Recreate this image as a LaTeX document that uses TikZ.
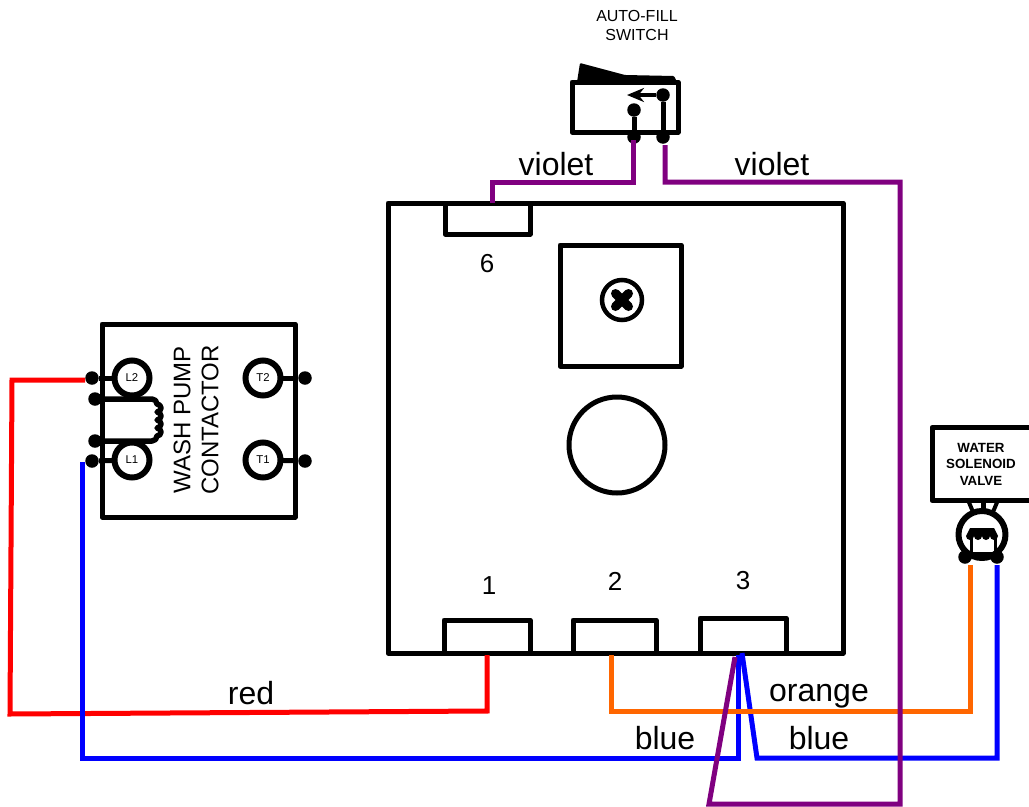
\documentclass[tikz,border=0pt]{standalone}
\usepackage{fontspec}
\setmainfont{Liberation Sans}
\usetikzlibrary{arrows.meta}
\definecolor{wireviolet}{RGB}{128, 0, 128}
\definecolor{wireorange}{RGB}{255, 102, 0}
\definecolor{wireblue}{RGB}{0, 0, 255}
\definecolor{wirered}{RGB}{255, 0, 0}
\newdimen\pxu
\pxu=0.75pt
\tikzset{
  outline/.style={draw=black, line width=5\pxu, line join=round, inner sep=0pt},
  wire/.style={line width=5\pxu, line join=miter},
  post/.style={circle, fill=black, minimum size=13.5\pxu, inner sep=0pt},
  lug/.style={circle, draw=black, line width=6\pxu, fill=white, minimum size=35\pxu, inner sep=0pt, outer sep=0pt, font=\fontsize{8.5}{10}\selectfont},
  biglabel/.style={font=\fontsize{24}{28}\selectfont, inner sep=0pt},
  pinlabel/.style={font=\fontsize{19.5}{23}\selectfont, inner sep=0pt},
  unitlabel/.style={font=\fontsize{18}{21}\selectfont, inner sep=0pt, rotate=90}
}
\begin{document}
\begin{tikzpicture}[x=0.75pt, y=-0.75pt]
  \useasboundingbox (0,0) rectangle (1029,807);
  % Control board
  \node[outline, minimum width=455\pxu, minimum height=450\pxu] (board) at (615.5,428) {};
  \node[outline, minimum width=85\pxu, minimum height=31\pxu] (pin6) at (487.5,218.5) {};
  \node[outline, minimum width=86\pxu, minimum height=33\pxu] (pin1) at (487,636.5) {};
  \node[outline, minimum width=83\pxu, minimum height=33\pxu] (pin2) at (614.5,636.5) {};
  \node[outline, minimum width=86\pxu, minimum height=35\pxu] (pin3) at (743,635.5) {};
  \node[outline, minimum width=121\pxu, minimum height=121\pxu] (pot) at (620.5,305.5) {};
  \node[outline, circle, minimum size=96\pxu] (dial) at (617,445) {};
  \node[draw=black, line width=4.5\pxu, circle, minimum size=40\pxu, inner sep=0pt] (knob) at (622,300) {};
  \draw[line width=9\pxu, line cap=round] ([xshift=-6.5\pxu,yshift=-6.5\pxu]knob.center) -- ([xshift=6.5\pxu,yshift=6.5\pxu]knob.center);
  \draw[line width=9\pxu, line cap=round] ([xshift=-6.5\pxu,yshift=6.5\pxu]knob.center) -- ([xshift=6.5\pxu,yshift=-6.5\pxu]knob.center);
  \node[pinlabel] (lab6) at (487,264) {6};
  \node[pinlabel] (lab1) at (489,586) {1};
  \node[pinlabel] (lab2) at (615,581) {2};
  \node[pinlabel] (lab3) at (743,581) {3};
  % Switch
  \fill[black, rounded corners=1\pxu] (577,82) -- (580,63) -- (625,75) -- (674,76) -- (677,82) -- cycle;
  \node[outline, minimum width=106\pxu, minimum height=50\pxu] (switch) at (625,107) {};
  \node[post] (swa) at (634,110) {};
  \node[post] (swb) at (663,95) {};
  \node[post] (swc) at (634,137) {};
  \node[post] (swd) at (663,137) {};
  \draw[line width=5\pxu] (swa) -- (swc);
  \draw[line width=5\pxu] (swb) -- (swd);
  \coordinate (swtip) at (627,95);
  \draw[line width=4\pxu, -{Stealth[length=12.75pt, width=10.5pt]}] (swb) -- (swtip);
  \node[font=\fontsize{12}{14}\selectfont, inner sep=0pt, align=center] (swlabel) at (637,25.5) {AUTO-FILL\\SWITCH};
  % Contactor
  \node[outline, minimum width=193\pxu, minimum height=193\pxu] (contactor) at (198.5,420.5) {};
  \node[post] (l2post) at (92,378) {};
  \node[post] (l1post) at (92,461) {};
  \node[post] (t2post) at (305,378) {};
  \node[post] (t1post) at (305,461) {};
  \node[post] (coila) at (95,399) {};
  \node[post] (coilb) at (95,441) {};
  \node[lug] (l2) at (132,378) {L2};
  \node[lug] (l1) at (132,460) {L1};
  \node[lug] (t2) at (263,378) {T2};
  \node[lug] (t1) at (263,460) {T1};
  \draw[line width=5\pxu] (l2post) -- (l2);
  \draw[line width=5\pxu] (l1post) -- (l1);
  \draw[line width=5\pxu] (t2post) -- (t2);
  \draw[line width=5\pxu] (t1post) -- (t1);
  \draw[line width=5.5\pxu, line join=round] (coila) -- (152,399) arc (90:0:5\pxu)
    arc (90:-90:4\pxu) arc (90:-90:4\pxu) arc (90:-90:4\pxu) arc (90:-90:4\pxu)
    arc (0:-90:5\pxu) -- (coilb);
  \node[unitlabel] (washlabel) at (182,420) {WASH PUMP};
  \node[unitlabel] (contlabel) at (210,420) {CONTACTOR};
  % Solenoid valve
  \node[outline, minimum width=103\pxu, minimum height=73\pxu] (valve) at (983.5,464) {};
  \node[font=\bfseries\fontsize{10}{12.4}\selectfont, inner sep=0pt, align=center] (valvelabel) at (981,464) {WATER\\SOLENOID\\VALVE};
  \draw[line width=4\pxu] (968,500) -- (973,512);
  \draw[line width=5\pxu] (983,500) -- (983,510);
  \draw[line width=4\pxu] (998,500) -- (993,512);
  \node[outline, circle, line width=6\pxu, minimum size=47\pxu] (coil) at (982,534.5) {};
  \node[post] (vala) at (965,557) {};
  \node[post] (valb) at (997,557) {};
  \draw[line width=3\pxu] (971,534) -- (971,553) -- (995,553) -- (995,534);
  \fill[black] (966,536) -- (970,528) -- (994,528) -- (998,536) arc (0:-180:4\pxu) arc (0:-180:4\pxu) arc (0:-180:4\pxu) arc (0:-180:4\pxu) -- cycle;
  % Wires
  \coordinate (wa) at (633,140);
  \coordinate (wb) at (665,145);
  \coordinate (wc) at (492,203);
  \coordinate (wd) at (735,657);
  \coordinate (redend) at (85,380);
  \coordinate (blueend) at (82,462);
  \coordinate (pin1b) at (487,655);
  \coordinate (pin2b) at (611,655);
  \coordinate (pin3b) at (738,655);
  \coordinate (pin3c) at (742,653);
  \coordinate (orangeend) at (970,565);
  \coordinate (blueendb) at (997,565);
  \draw[wire, wirered] (pin1b) -- (487,711) -- (10,714) -- (12,380) -- (redend);
  \draw[wire, wireblue] (pin3b) -- (738,758) -- (82,758) -- (blueend);
  \draw[wire, wireblue] (pin3c) -- (757,758) -- (997,758) -- (blueendb);
  \draw[wire, wireorange] (pin2b) -- (611,711) -- (970,711) -- (orangeend);
  \draw[wire, wireviolet] (wa) -- (633,182) -- (492,182) -- (wc);
  \draw[wire, wireviolet] (wb) -- (665,182) -- (900,182) -- (900,804) -- (709,804) -- (wd);
  % Wire labels
  \node[biglabel] (violeta) at (556,164) {violet};
  \node[biglabel] (violetb) at (772,164) {violet};
  \node[biglabel] (redlabel) at (251,693) {red};
  \node[biglabel] (orangelabel) at (819,696) {orange};
  \node[biglabel] (bluea) at (665,738) {blue};
  \node[biglabel] (blueb) at (819,738) {blue};
\end{tikzpicture}
\end{document}
